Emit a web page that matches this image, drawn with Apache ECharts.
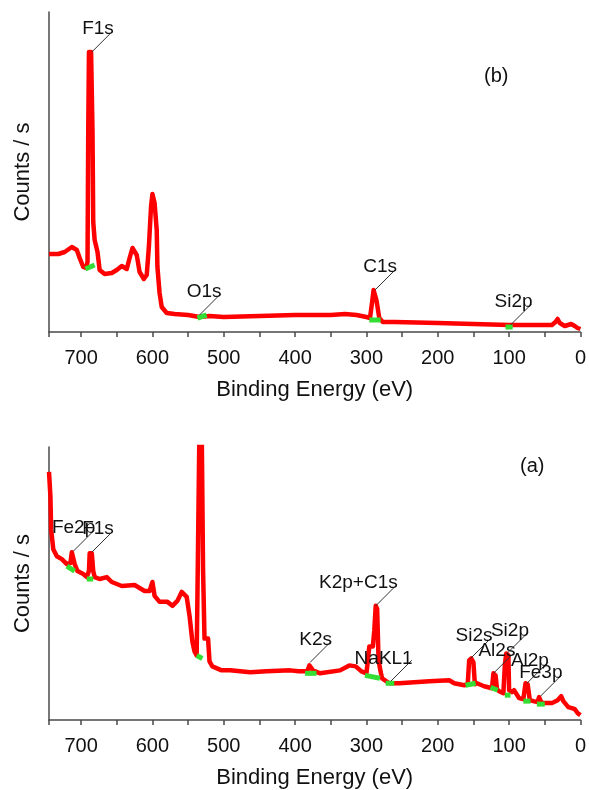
<!DOCTYPE html>
<html>
<head>
<meta charset="utf-8">
<script src="https://cdn.jsdelivr.net/npm/echarts@6/dist/echarts.min.js"></script>
<style>
  html, body { margin: 0; padding: 0; background: #fff; }
  #chart { width: 589px; height: 790px; }
</style>
</head>
<body>
<div id="chart"></div>
<script>
// ---- spectrum (b) ----
var energyB = [745, 732, 723, 713, 706, 702, 697, 693, 691, 690, 689, 686, 684, 683, 681, 679, 677, 674, 667, 657,
  650, 643, 636, 632, 628, 622, 618, 612, 608, 605, 602, 600, 597, 594, 593, 590, 587, 580, 569, 550,
  534, 520, 500, 450, 400, 350, 330, 314, 300, 295, 292, 290, 288, 286, 282, 277, 260, 200, 150, 100,
  82, 40, 35, 32, 29, 22, 13, 8, 4, 0];
var countsB = [78, 78, 80, 85, 82, 74, 65, 64, 70, 200, 280, 280, 200, 110, 92, 90, 80, 62, 58, 59,
  62, 66, 63, 74, 84, 77, 60, 53, 57, 85, 125, 138, 129, 102, 65, 39, 25, 19, 18, 17,
  15, 16, 15, 16, 17, 17, 18, 17, 15, 14, 30, 42, 42, 32, 14, 10, 10, 9, 8, 7,
  7, 7, 10, 13, 9, 6, 8, 6, 4, 3];
var peakNamesB = ['F1s', 'O1s', 'C1s', 'Si2p'];
var peakEnergyB = [685, 534, 288, 98];
var peakCountsB = [280, 17, 42, 7];
// green base markers: [E start, counts, E end, counts]
var markersB = [[694, 63, 681, 67], [537, 14, 524, 17], [296, 12, 280, 12], [105, 5, 95, 5]];

// ---- spectrum (a) ----
var energyA = [745, 743, 742, 739, 734, 727, 720, 715, 713, 711, 709, 705, 697, 692, 689, 688, 685, 683, 681, 674,
  664, 657, 643, 625, 611, 604, 600, 597, 590, 579, 572, 565, 559, 552, 548, 544, 541, 538, 537, 536,
  534, 531, 529, 527, 522, 520, 516, 503, 491, 463, 440, 407, 395, 383, 380, 378, 375, 365, 337, 324,
  315, 307, 300, 298, 296, 291, 289, 287, 285, 283, 280, 278, 268, 254, 212, 184, 177, 163, 158, 156,
  153, 150, 148, 145, 135, 124, 122, 119, 117, 114, 108, 106, 104, 101, 100, 96, 93, 86, 80, 77,
  74, 71, 66, 60, 58, 55, 52, 40, 32, 27, 24, 17, 12, 8, 4, 0];
var countsA = [250, 225, 192, 172, 165, 162, 157, 158, 169, 169, 157, 150, 147, 144, 150, 168, 168, 150, 144, 142,
  144, 139, 135, 136, 130, 130, 139, 125, 119, 119, 115, 120, 129, 124, 105, 79, 69, 65, 120, 180,
  300, 300, 150, 82, 82, 59, 54, 50, 50, 48, 49, 50, 49, 49, 55, 57, 50, 47, 50, 55,
  54, 49, 47, 60, 74, 74, 90, 115, 112, 60, 48, 42, 37, 37, 39, 40, 37, 35, 36, 60,
  62, 58, 36, 37, 34, 32, 47, 45, 31, 29, 27, 55, 67, 65, 30, 28, 30, 22, 21, 37,
  36, 20, 19, 18, 23, 18, 17, 17, 20, 24, 19, 13, 12, 11, 7, 5];
var peakNamesA = ['Fe2p', 'F1s', 'K2s', 'K2p+C1s', 'NaKL1', 'Si2s', 'Al2s', 'Si2p', 'Al2p', 'Fe3p'];
var peakEnergyA = [711, 685, 379, 287, 266, 154, 122, 103, 75, 56];
var peakCountsA = [170, 169, 58, 115, 39, 62, 47, 67, 37, 24];
var markersA = [[720, 155, 709, 150], [692, 142, 683, 142], [538, 65, 530, 62], [386, 47, 370, 47],
  [302, 45, 281, 42], [273, 37, 261, 37], [161, 35, 147, 37], [126, 33, 116, 30], [106, 25, 98, 25],
  [80, 19, 70, 19], [61, 16, 50, 16]];

var xTicks = [700, 600, 500, 400, 300, 200, 100, 0];

var FONT = '"Liberation Sans", Arial, sans-serif';
var AXIS_COLOR = '#4a4a4a';

function zip(xs, ys) {
  return xs.map(function (x, i) { return [x, ys[i]]; });
}

function makeXAxis(idx) {
  return {
    gridIndex: idx,
    type: 'value',
    inverse: true,
    min: 0,
    max: 745,
    interval: 50,
    axisLine: { onZero: false, lineStyle: { color: AXIS_COLOR, width: 1.5 } },
    axisTick: { length: 5, lineStyle: { color: AXIS_COLOR, width: 1.5 } },
    axisLabel: {
      margin: 16,
      fontSize: 20,
      color: '#111',
      fontFamily: FONT,
      formatter: function (v) { return xTicks.indexOf(v) >= 0 ? String(v) : ''; }
    },
    splitLine: { show: false },
    name: 'Binding Energy (eV)',
    nameLocation: 'middle',
    nameGap: 47,
    nameTextStyle: { fontSize: 22, color: '#111', fontFamily: FONT }
  };
}

function makeYAxis(idx, max) {
  return {
    gridIndex: idx,
    type: 'value',
    position: 'left',
    min: 0,
    max: max,
    axisLine: { show: true, onZero: false, lineStyle: { color: AXIS_COLOR, width: 1.5 } },
    axisTick: { show: false },
    axisLabel: { show: false },
    splitLine: { show: false },
    name: 'Counts / s',
    nameLocation: 'middle',
    nameGap: 15,
    nameTextStyle: { fontSize: 22, color: '#111', fontFamily: FONT }
  };
}

function spectrum(idx, xs, ys) {
  return {
    type: 'line',
    xAxisIndex: idx,
    yAxisIndex: idx,
    data: zip(xs, ys),
    showSymbol: false,
    symbol: 'none',
    clip: true,
    lineStyle: { color: '#ff0000', width: 4.5, join: 'round' },
    z: 2
  };
}

function baseMarkers(idx, list) {
  return {
    type: 'custom',
    xAxisIndex: idx,
    yAxisIndex: idx,
    data: list,
    encode: { x: [0, 2], y: [1, 3] },
    z: 3,
    renderItem: function (params, api) {
      var a = api.coord([api.value(0), api.value(1)]);
      var b = api.coord([api.value(2), api.value(3)]);
      return {
        type: 'line',
        shape: { x1: a[0], y1: a[1], x2: b[0], y2: b[1] },
        style: { stroke: '#33dd33', lineWidth: 5 }
      };
    }
  };
}

function peakLabels(idx, names, es, cs) {
  return {
    type: 'custom',
    xAxisIndex: idx,
    yAxisIndex: idx,
    data: zip(es, cs),
    clip: false,
    z: 4,
    renderItem: function (params, api) {
      var p = api.coord([api.value(0), api.value(1)]);
      var ex = p[0] + 21, ey = p[1] - 21;
      return {
        type: 'group',
        children: [{
          type: 'line',
          shape: { x1: p[0], y1: p[1], x2: ex, y2: ey },
          style: { stroke: '#333', lineWidth: 1 }
        }, {
          type: 'text',
          style: {
            text: names[params.dataIndex],
            x: ex + 1, y: ey - 2,
            align: 'right', verticalAlign: 'middle',
            textAlign: 'right', textVerticalAlign: 'middle',
            font: '19px ' + FONT,
            fill: '#111'
          }
        }]
      };
    }
  };
}

var chart = echarts.init(document.getElementById('chart'));
chart.setOption({
  animation: false,
  backgroundColor: '#ffffff',
  grid: [
    { left: 49, right: 7, top: 12, bottom: 458 },
    { left: 49, right: 7, top: 447, bottom: 68 }
  ],
  xAxis: [makeXAxis(0), makeXAxis(1)],
  yAxis: [makeYAxis(0, 320), makeYAxis(1, 275)],
  graphic: [
    { type: 'text', left: 484, top: 66, style: { text: '(b)', font: '20px ' + FONT, fill: '#111' } },
    { type: 'text', left: 520, top: 456, style: { text: '(a)', font: '20px ' + FONT, fill: '#111' } }
  ],
  series: [
    spectrum(0, energyB, countsB),
    baseMarkers(0, markersB),
    peakLabels(0, peakNamesB, peakEnergyB, peakCountsB),
    spectrum(1, energyA, countsA),
    baseMarkers(1, markersA),
    peakLabels(1, peakNamesA, peakEnergyA, peakCountsA)
  ]
});
</script>
</body>
</html>
